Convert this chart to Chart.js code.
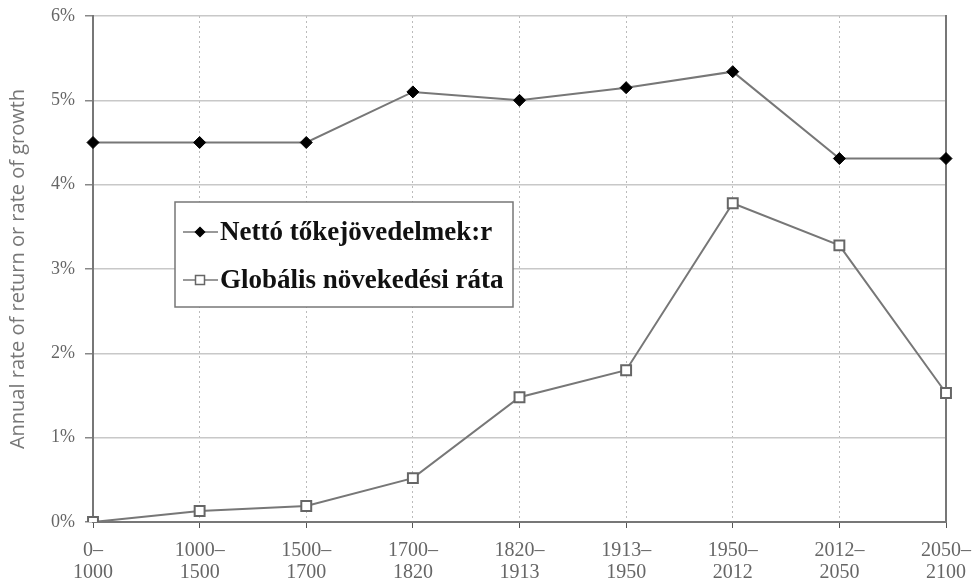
<!DOCTYPE html>
<html>
<head>
<meta charset="utf-8">
<script src="https://cdn.jsdelivr.net/npm/chart.js@4"></script>
<style>
html,body{margin:0;padding:0;background:#fff;}
#wrap{position:relative;width:978px;height:584px;}
</style>
</head>
<body>
<div id="wrap"><canvas id="c" width="978" height="584"></canvas></div>
<script>
const categories = [["0–","1000"],["1000–","1500"],["1500–","1700"],["1700–","1820"],["1820–","1913"],["1913–","1950"],["1950–","2012"],["2012–","2050"],["2050–","2100"]];
const returnRate = [4.5, 4.5, 4.5, 5.1, 5.0, 5.15, 5.34, 4.31, 4.31];
const growthRate = [0.0, 0.13, 0.19, 0.52, 1.48, 1.8, 3.78, 3.28, 1.53];
const yTicks = [0, 1, 2, 3, 4, 5, 6];
const seriesNames = ["Nettó tőkejövedelmek:r", "Globális növekedési ráta"];
const yTitle = "Annual rate of return or rate of growth";

const serif = "'Liberation Serif','DejaVu Serif',serif";
const tickColor = "#666";

const legendPlugin = {
  id: 'insideLegend',
  afterDraw(chart) {
    const ctx = chart.ctx;
    const x0 = 175, y0 = 202, w = 338, h = 105;
    ctx.save();
    ctx.fillStyle = '#fff';
    ctx.fillRect(x0, y0, w, h);
    ctx.strokeStyle = '#777';
    ctx.lineWidth = 1.5;
    ctx.strokeRect(x0, y0, w, h);
    const rows = [y0 + 30, y0 + 78];
    chart.data.datasets.forEach((ds, i) => {
      const cy = rows[i];
      ctx.strokeStyle = ds.borderColor;
      ctx.lineWidth = 1.5;
      ctx.beginPath(); ctx.moveTo(x0 + 8, cy); ctx.lineTo(x0 + 43, cy); ctx.stroke();
      ctx.fillStyle = ds.pointBackgroundColor;
      ctx.strokeStyle = ds.pointBorderColor;
      ctx.beginPath();
      const mx = x0 + 25;
      if (i === 0) {
        ctx.moveTo(mx, cy - 4.5); ctx.lineTo(mx + 4.5, cy); ctx.lineTo(mx, cy + 4.5); ctx.lineTo(mx - 4.5, cy); ctx.closePath();
      } else {
        ctx.rect(mx - 4.5, cy - 4.5, 9, 9);
      }
      ctx.fill(); ctx.stroke();
      ctx.fillStyle = '#111';
      ctx.font = "bold 27px " + serif;
      ctx.textBaseline = 'middle';
      ctx.textAlign = 'left';
      ctx.fillText(ds.label, x0 + 45, cy + 1);
    });
    ctx.restore();
  }
};

new Chart(document.getElementById('c'), {
  type: 'line',
  data: {
    labels: categories,
    datasets: [
      {
        label: seriesNames[0],
        data: returnRate,
        borderColor: '#777',
        borderWidth: 2,
        pointStyle: 'rectRot',
        pointRadius: 6,
        pointBackgroundColor: '#000',
        pointBorderColor: '#000',
        pointBorderWidth: 1,
        tension: 0
      },
      {
        label: seriesNames[1],
        data: growthRate,
        borderColor: '#777',
        borderWidth: 2,
        pointStyle: 'rect',
        pointRadius: 7,
        pointBackgroundColor: '#fff',
        pointBorderColor: '#666',
        pointBorderWidth: 2,
        tension: 0
      }
    ]
  },
  options: {
    responsive: false,
    animation: false,
    layout: { padding: { top: 16, right: 32, left: 0, bottom: 0 } },
    plugins: { legend: { display: false }, tooltip: { enabled: false } },
    scales: {
      x: {
        offset: false,
        grid: { color: '#bbb', lineWidth: 1, tickLength: 6, tickColor: '#555', drawOnChartArea: true },
        border: { display: true, color: '#777', width: 2, dash: [2, 3] },
        ticks: { color: tickColor, font: { family: serif, size: 20, lineHeight: 1.1 }, maxRotation: 0, autoSkip: false, padding: 12 },
        afterFit(s) { s.height = 62; s.paddingLeft = 0; s.paddingRight = 0; }
      },
      y: {
        min: 0, max: 6,
        afterBuildTicks(s) { s.ticks = yTicks.map(v => ({ value: v })); },
        grid: { color: '#c8c8c8', lineWidth: 1.5, tickLength: 8, tickColor: '#888' },
        border: { display: true, color: '#777', width: 2 },
        ticks: { color: tickColor, font: { family: serif, size: 18 }, padding: 10, callback: v => v + '%' },
        title: { display: true, text: yTitle, color: '#777', font: { family: "'Open Sans',sans-serif", size: 20 }, padding: { top: 6, bottom: 4 } },
        afterFit(s) { s.width = 93; s.paddingTop = 0; s.paddingBottom = 0; }
      },
      y2: {
        position: 'right',
        min: 0, max: 6,
        grid: { drawOnChartArea: false, drawTicks: false },
        border: { display: true, color: '#777', width: 2 },
        ticks: { display: false },
        afterFit(s) { s.width = 0; s.paddingTop = 0; s.paddingBottom = 0; }
      }
    }
  },
  plugins: [legendPlugin]
});
</script>
</body>
</html>
